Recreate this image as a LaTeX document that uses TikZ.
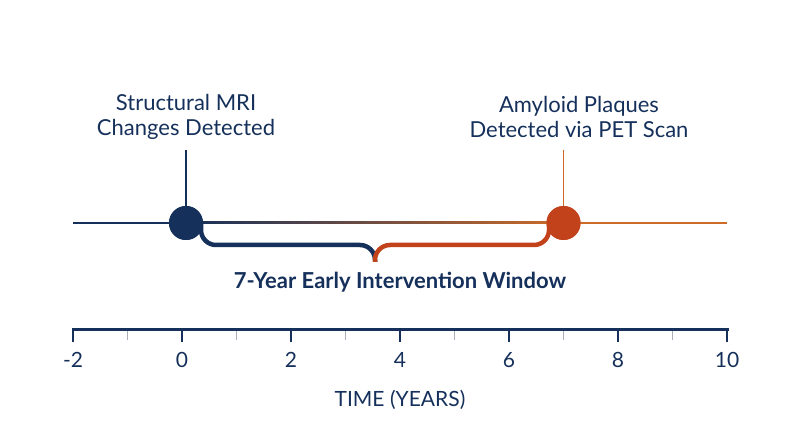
\documentclass[tikz,border=0pt]{standalone}
\usepackage{fontspec}
\setmainfont{Lato}
\usepackage{tikz}
\usetikzlibrary{positioning,calc}
\definecolor{navy}{HTML}{15305A}
\definecolor{rust}{HTML}{C2421B}
\definecolor{amber}{HTML}{CD6B28}
\definecolor{tickgray}{HTML}{A9B0BA}

\begin{document}
\begin{tikzpicture}[x=1pt,y=1pt,every node/.style={font=\fontsize{21}{25}\selectfont,text=navy},
  event/.style={circle,inner sep=0pt,minimum size=34pt},
  lbl/.style={align=center,inner sep=0pt,font=\fontsize{22}{25}\selectfont}]
\useasboundingbox (0,0) rectangle (800,447);
% The timeline with its two detected events.
\coordinate (tl) at (73,224);
\coordinate (tr) at (727,224);
\node[event,fill=navy] (mri) at (186,224) {};
\node[event,fill=rust] (pet) at (563.5,224) {};
\draw[navy,line width=2pt] (tl)--(mri.center);
\shade[left color=navy,right color=amber] ($(mri.center)+(0,-1)$) rectangle ($(pet.center)+(0,1)$);
\draw[amber,line width=2pt] (pet.center)--(tr);
\node[lbl] (mrilabel) at (186,330) {Structural MRI\\Changes Detected};
\node[lbl] (petlabel) at (579,330) {Amyloid Plaques\\Detected via PET Scan};
\coordinate (mritop) at (186,297);
\coordinate (pettop) at (563.5,297);
\draw[navy,line width=1.6pt] (mritop)--(mri);
\draw[amber,line width=1.6pt] (pettop)--(pet);
% The brace spanning the window.
\coordinate (tip) at (375,185);
\draw[navy,line width=4.5pt,rounded corners=15pt] (201,223)--(201,202)--(375,202)--(tip);
\draw[rust,line width=4.5pt,rounded corners=15pt] (tip)--(375,202)--(549,202)--(549,223);
\node[event,fill=navy] at (mri) {};
\node[event,fill=rust] at (pet) {};
\node[font=\fontsize{22}{26}\selectfont\bfseries] (window) at (400,165) {7-Year Early Intervention Window};
% The time axis.
\coordinate (axl) at (73,117);
\coordinate (axr) at (727,117);
\foreach \v in {-1,1,3,5,7,9}{
  \draw[tickgray,line width=1.5pt] ({182+54.5*\v},116)--({182+54.5*\v},107);
}
\foreach \v in {-2,0,...,10}{
  \draw[navy,line width=2pt] ({182+54.5*\v},117)--({182+54.5*\v},105);
  \node (n\v) at ({182+54.5*\v},87) {\v};
}
\draw[navy,line width=3pt,line cap=rect] (axl)--(axr);
\node (timelabel) at (400,47) {TIME (YEARS)};
\end{tikzpicture}
\end{document}
